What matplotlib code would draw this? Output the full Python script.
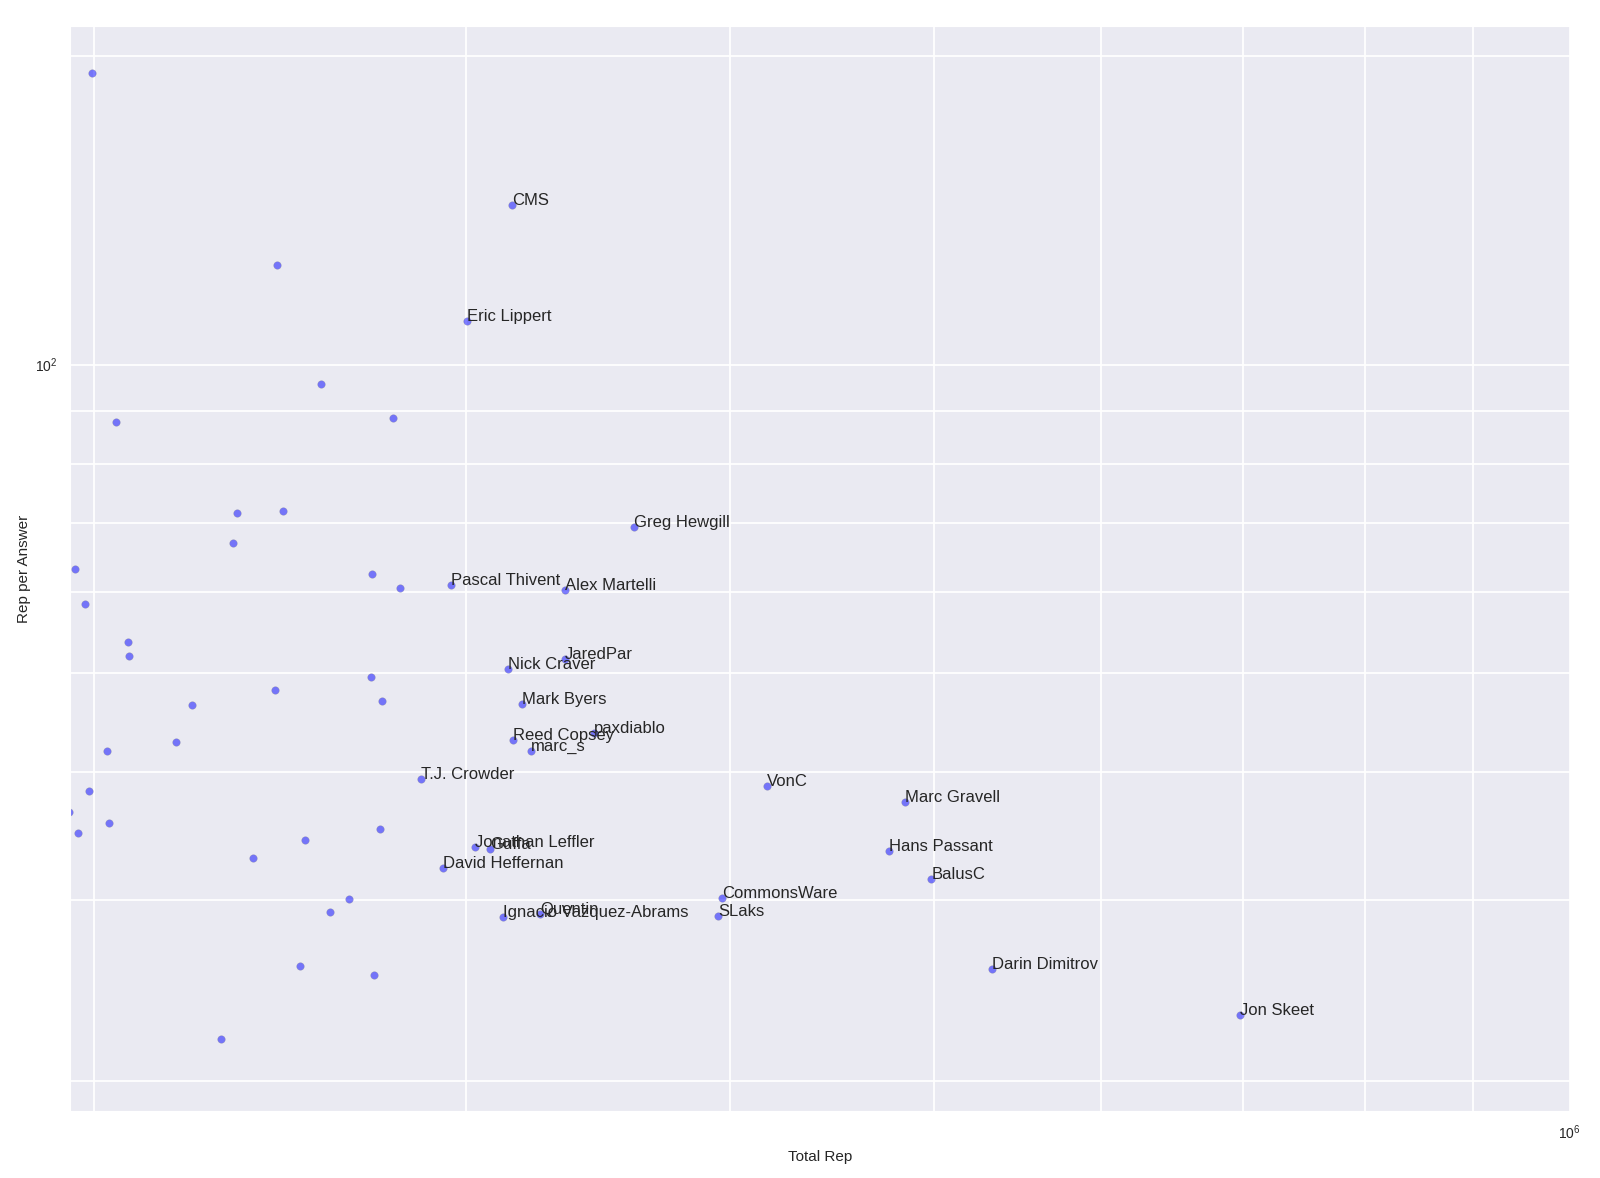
import numpy as np
import matplotlib
matplotlib.use('Agg')
import matplotlib.pyplot as plt
import seaborn as sns
from matplotlib.ticker import NullFormatter

# top users, labelled on the chart
names = ['CMS', 'Eric Lippert', 'Greg Hewgill', 'Pascal Thivent', 'Alex Martelli',
         'JaredPar', 'Nick Craver', 'Mark Byers', 'paxdiablo', 'Reed Copsey',
         'marc_s', 'T.J. Crowder', 'VonC', 'Marc Gravell', 'Hans Passant',
         'Jonathan Leffler', 'Guffa', 'David Heffernan', 'BalusC', 'CommonsWare',
         'Quentin', 'Ignacio Vazquez-Abrams', 'SLaks', 'Darin Dimitrov', 'Jon Skeet']
named_rep = [315400, 300200, 360400, 295300, 334100,
             334100, 314000, 318800, 345100, 315700,
             322100, 285500, 416600, 484200, 476200,
             302900, 308000, 292600, 498400, 396700,
             325300, 312500, 394900, 532400, 697900]
named_rpa = [143.1, 110.2, 69.4, 61.0, 60.3,
             51.6, 50.5, 46.6, 43.7, 43.0,
             42.0, 39.4, 38.8, 37.4, 33.5,
             33.8, 33.7, 32.3, 31.5, 30.2,
             29.1, 28.9, 29.0, 25.7, 23.2]

# everybody else (no label)
other_rep = [199500, 244100, 256200, 204900, 277000, 233600, 245700, 232800,
             195800, 270900, 279300, 198000, 207400, 207800, 270600, 243500,
             273700, 222400, 218700, 202800, 198800, 194600, 203200, 196400,
             273100, 251800, 237900, 264000, 258800, 250200, 271300, 229700]
other_rpa = [192.4, 125.2, 95.7, 87.8, 88.6, 71.6, 71.9, 67.0,
             63.2, 62.5, 60.5, 58.4, 53.6, 51.9, 49.6, 48.1,
             47.0, 46.5, 42.8, 42.0, 38.4, 36.6, 35.7, 34.9,
             35.2, 34.4, 33.0, 30.1, 29.2, 25.9, 25.4, 22.0]

sns.set_style('darkgrid')
plt.rcParams['font.family'] = ['Liberation Sans', 'DejaVu Sans']

fig = plt.figure(figsize=(16, 11.78), dpi=100)
ax = fig.add_subplot(111)
fig.subplots_adjust(left=0.0438, right=0.981, top=0.978, bottom=0.057)

total = other_rep + named_rep
rpa = other_rpa + named_rpa
ax.scatter(total, rpa, c='b', alpha=0.5, s=30, edgecolors='gray', linewidths=0.3)

for name, x, y in zip(names, named_rep, named_rpa):
    ax.text(x, y, name, fontsize=12, color='#262626')

ax.set_xscale('log')
ax.set_yscale('log')
ax.set_xlim(1.948e5, 1e6)
ax.set_ylim(18.7, 214)
ax.xaxis.set_minor_formatter(NullFormatter())
ax.yaxis.set_minor_formatter(NullFormatter())
ax.grid(True, which='both', color='white', linewidth=1.3)
ax.tick_params(which='both', length=0, labelsize=10, pad=9)

ax.set_xlabel('Total Rep', fontsize=11, labelpad=6)
ax.set_ylabel('Rep per Answer', fontsize=11, labelpad=3)

plt.savefig('out.png')
